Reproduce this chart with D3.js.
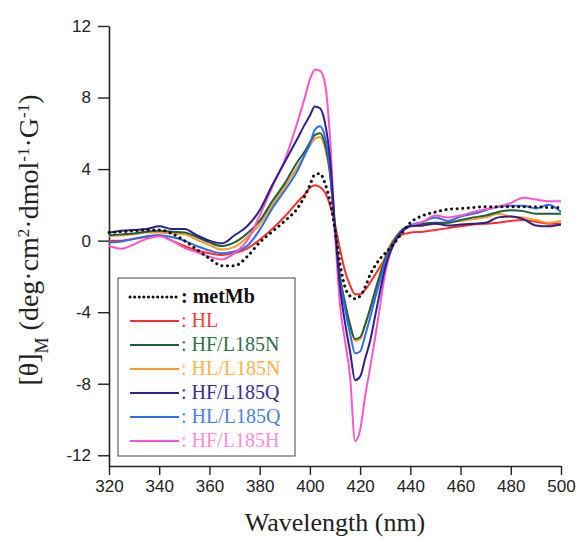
<!DOCTYPE html>
<html>
<head>
<meta charset="utf-8">
<script src="https://cdn.jsdelivr.net/npm/d3@7"></script>
<style>
  html, body { margin: 0; padding: 0; background: #fff; }
  svg { display: block; }
</style>
</head>
<body>
<svg id="chart" width="578" height="541"></svg>
<script>
// ---- data ----
const wavelengths = [320,325,330,335,340,345,350,355,360,365,370,375,380,385,390,395,398,400,402,404,406,408,410,412,414,416,418,420,422,424,426,428,430,433,436,440,445,450,455,460,465,470,475,480,485,490,495,500];

const seriesNames = ["metMb","HL","HF/L185N","HL/L185N","HF/L185Q","HL/L185Q","HF/L185H"];
const seriesColors = ["#111111","#ff2e2e","#1d5e3b","#ff9a22","#2d1f8c","#2b6cf0","#ff55cc"];
const labelColors  = ["#111111","#ff3a3a","#2f6e4a","#ffb347","#3a2d90","#4a80e6","#ff8ed8"];

const metMb = [0.45,0.5,0.55,0.6,0.6,0.4,0.0,-0.5,-1.0,-1.4,-1.4,-0.9,-0.1,0.5,1.1,1.8,2.5,3.1,3.7,3.75,3.2,2.2,0.6,-1.3,-2.6,-3.1,-3.25,-3.1,-2.6,-1.9,-1.4,-1.0,-0.7,-0.25,0.3,1.0,1.4,1.6,1.75,1.8,1.85,1.9,1.9,1.9,1.9,1.9,1.85,1.85];
const HL = [0.0,0.0,0.1,0.2,0.3,0.0,-0.3,-0.55,-0.7,-0.8,-0.7,-0.45,0.05,0.65,1.35,2.15,2.6,2.95,3.1,3.0,2.7,2.0,0.9,-0.5,-1.7,-2.5,-3.0,-3.0,-2.75,-2.35,-1.9,-1.45,-0.95,-0.2,0.3,0.45,0.5,0.6,0.7,0.8,0.9,0.95,1.0,1.1,1.15,1.05,0.95,0.95];
const HF_L185N = [0.3,0.35,0.4,0.5,0.55,0.5,0.45,0.2,-0.1,-0.3,-0.1,0.4,1.1,2.2,3.2,4.4,5.0,5.5,5.9,6.0,5.4,3.8,0.6,-2.0,-3.5,-4.7,-5.5,-5.4,-4.7,-3.8,-2.8,-1.9,-1.0,-0.1,0.5,0.85,0.95,1.0,1.0,1.15,1.3,1.4,1.6,1.7,1.65,1.5,1.5,1.5];
const HL_L185N = [0.25,0.3,0.35,0.45,0.45,0.4,0.35,0.05,-0.25,-0.5,-0.35,0.2,0.9,2.0,3.0,4.1,4.8,5.3,5.7,5.8,5.2,3.7,0.5,-2.0,-3.5,-4.7,-5.6,-5.5,-4.7,-3.8,-2.8,-1.8,-0.9,0.0,0.5,0.8,0.85,0.95,1.0,1.1,1.2,1.3,1.5,1.35,1.3,1.15,1.0,1.1];
const HF_L185Q = [0.45,0.55,0.6,0.65,0.8,0.65,0.65,0.3,0.0,-0.15,0.3,0.8,1.7,3.1,4.4,5.7,6.5,7.0,7.5,7.4,6.6,4.6,0.8,-2.6,-4.6,-6.2,-7.8,-7.6,-6.6,-5.6,-4.2,-2.8,-1.5,-0.3,0.4,0.8,0.85,0.95,0.85,0.9,0.95,1.0,1.3,1.35,1.2,0.85,0.8,0.9];
const HL_L185Q = [-0.1,-0.05,0.1,0.25,0.3,0.2,0.0,-0.3,-0.55,-0.7,-0.6,-0.3,0.6,1.8,2.8,3.9,4.8,5.4,6.2,6.4,5.8,4.0,0.6,-2.2,-3.8,-5.2,-6.3,-6.2,-5.3,-4.3,-3.2,-2.2,-1.2,-0.2,0.5,0.85,1.05,1.3,1.1,1.35,1.5,1.7,1.9,1.95,1.95,1.8,2.0,1.6];
const HF_L185H = [-0.3,-0.45,-0.2,0.1,0.25,0.0,-0.4,-0.65,-0.9,-1.05,-0.7,0.0,1.4,3.0,4.5,6.6,8.0,9.0,9.55,9.5,8.8,5.8,0.5,-3.6,-5.6,-7.6,-11.2,-10.6,-8.7,-7.1,-5.4,-3.6,-1.8,-0.3,0.4,0.8,1.05,1.4,1.3,1.4,1.6,1.75,1.9,2.1,2.4,2.3,2.2,2.2];

const seriesValues = [metMb, HL, HF_L185N, HL_L185N, HF_L185Q, HL_L185Q, HF_L185H];

const xTicks = [320,340,360,380,400,420,440,460,480,500];
const yTicks = [-12,-8,-4,0,4,8,12];

// ---- drawing ----
const svg = d3.select("#chart");
const x = d3.scaleLinear().domain([320, 500]).range([109, 561]);
const y = d3.scaleLinear().domain([-12.6, 12]).range([466, 26]);

const sans = "'Liberation Sans', Arial, Helvetica, sans-serif";
const serif = "'Liberation Serif', 'Times New Roman', Times, serif";

// axes
const xAxis = svg.append("g")
  .attr("transform", `translate(0,${y(-12.6)})`)
  .call(d3.axisBottom(x).tickValues(xTicks).tickFormat(d => String(d)).tickSize(9).tickPadding(5).tickSizeOuter(0));
const yAxis = svg.append("g")
  .attr("transform", `translate(${x(320)},0)`)
  .call(d3.axisLeft(y).tickValues(yTicks).tickFormat(d => String(d)).tickSize(11).tickPadding(7).tickSizeOuter(0));

[xAxis, yAxis].forEach(g => {
  g.selectAll("path.domain").attr("stroke", "#222").attr("stroke-width", 1.6);
  g.selectAll(".tick line").attr("stroke", "#222").attr("stroke-width", 1.4);
  g.selectAll(".tick text").attr("fill", "#222").style("font-family", sans).style("font-size", "17px");
});

// lines
const line = d3.line().x((d, i) => x(wavelengths[i])).y(d => y(d)).curve(d3.curveMonotoneX);
const drawOrder = [1, 3, 2, 5, 6, 4, 0];
drawOrder.forEach(k => {
  const p = svg.append("path")
    .datum(seriesValues[k])
    .attr("fill", "none")
    .attr("stroke", seriesColors[k])
    .attr("d", line);
  if (k === 0) {
    p.attr("stroke-width", 3).attr("stroke-dasharray", "0.1 5.5").attr("stroke-linecap", "round");
  } else {
    p.attr("stroke-width", 2).attr("stroke-linejoin", "round");
  }
});

// legend
const lg = svg.append("g");
lg.append("rect").attr("x", 118).attr("y", 278).attr("width", 177).attr("height", 178)
  .attr("fill", "#fff").attr("stroke", "#444").attr("stroke-width", 1);
seriesNames.forEach((name, i) => {
  const cy = 297 + i * 24;
  const l = lg.append("line").attr("x1", 130).attr("x2", 179).attr("y1", cy).attr("y2", cy)
    .attr("stroke", seriesColors[i]);
  if (i === 0) l.attr("stroke-width", 3).attr("stroke-dasharray", "0.1 4.5").attr("stroke-linecap", "round");
  else l.attr("stroke-width", 2.2);
  lg.append("text").attr("x", 181).attr("y", cy + 6)
    .style("font-family", serif).style("font-size", "20px")
    .style("font-weight", i === 0 ? "bold" : "normal")
    .attr("fill", labelColors[i])
    .text(": " + name);
});

// axis titles
svg.append("text").attr("x", 335).attr("y", 531).attr("text-anchor", "middle")
  .style("font-family", serif).style("font-size", "26px").attr("fill", "#222")
  .text("Wavelength (nm)");

const yt = svg.append("text")
  .attr("transform", "translate(38,240) rotate(-90)")
  .attr("text-anchor", "middle")
  .style("font-family", serif).style("font-size", "28px").attr("fill", "#222");
yt.append("tspan").text("[θ]");
yt.append("tspan").attr("baseline-shift", "sub").style("font-size", "18px").text("M");
yt.append("tspan").text(" (deg·cm");
yt.append("tspan").attr("baseline-shift", "super").style("font-size", "17px").text("2");
yt.append("tspan").text("·dmol");
yt.append("tspan").attr("baseline-shift", "super").style("font-size", "17px").text("-1");
yt.append("tspan").text("·G");
yt.append("tspan").attr("baseline-shift", "super").style("font-size", "17px").text("-1");
yt.append("tspan").text(")");
</script>
</body>
</html>
